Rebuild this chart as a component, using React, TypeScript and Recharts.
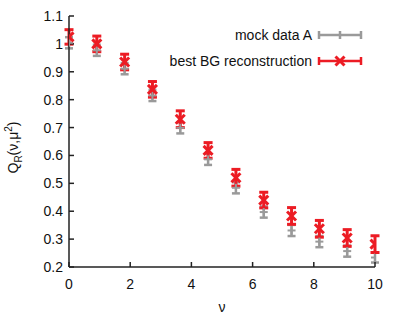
import React from 'react';
import {
  ScatterChart,
  Scatter,
  XAxis,
  YAxis,
  ErrorBar,
  Legend,
} from 'recharts';

const FONT = '"Liberation Sans", Arial, sans-serif';
const RED = '#ec1c24';
const GRAY = '#9a9a9a';
const AXIS = '#222222';

// nu values (12 points, evenly spaced 0..10)
const nuValues = [0, 0.909, 1.818, 2.727, 3.636, 4.545, 5.455, 6.364, 7.273, 8.182, 9.091, 10];
const mockValues = [1.004, 0.977, 0.911, 0.815, 0.699, 0.586, 0.484, 0.397, 0.331, 0.291, 0.257, 0.234];
const mockErrors = [0.02, 0.02, 0.02, 0.02, 0.02, 0.02, 0.02, 0.02, 0.02, 0.02, 0.02, 0.018];
const recoValues = [1.025, 1.0, 0.935, 0.837, 0.73, 0.618, 0.52, 0.44, 0.383, 0.337, 0.304, 0.282];
const recoErrors = [0.026, 0.028, 0.028, 0.028, 0.03, 0.028, 0.03, 0.028, 0.03, 0.03, 0.03, 0.03];
const xTicks = [0, 2, 4, 6, 8, 10];
const yTicks = [0.2, 0.3, 0.4, 0.5, 0.6, 0.7, 0.8, 0.9, 1, 1.1];

const mockData = nuValues.map((x, i) => ({ x, y: mockValues[i], err: mockErrors[i] }));
const recoData = nuValues.map((x, i) => ({ x, y: recoValues[i], err: recoErrors[i] }));

const CrossMark = (props: any) => {
  const { cx, cy } = props;
  const s = 4.5;
  return (
    <g stroke={RED} strokeWidth={3}>
      <line x1={cx - s} y1={cy - s} x2={cx + s} y2={cy + s} />
      <line x1={cx - s} y1={cy + s} x2={cx + s} y2={cy - s} />
    </g>
  );
};

const PlusMark = (props: any) => {
  const { cx, cy } = props;
  const s = 4;
  return (
    <g stroke={GRAY} strokeWidth={2}>
      <line x1={cx - s} y1={cy} x2={cx + s} y2={cy} />
      <line x1={cx} y1={cy - s} x2={cx} y2={cy + s} />
    </g>
  );
};

const LegendBox = () => (
  <svg width={220} height={52} style={{ display: 'block' }}>
    <g fontFamily={FONT} fontSize={14} fill="#111">
      <text x={152} y={18} textAnchor="end">mock data A</text>
      <text x={152} y={44} textAnchor="end">best BG reconstruction</text>
    </g>
    <g stroke={GRAY} strokeWidth={2.5}>
      <line x1={159} y1={13} x2={201} y2={13} />
      <line x1={159} y1={9} x2={159} y2={17} />
      <line x1={201} y1={9} x2={201} y2={17} />
      <line x1={180} y1={9} x2={180} y2={17} />
    </g>
    <g stroke={RED} strokeWidth={2.5}>
      <line x1={159} y1={39} x2={201} y2={39} />
      <line x1={159} y1={35} x2={159} y2={43} />
      <line x1={201} y1={35} x2={201} y2={43} />
      <line x1={175.5} y1={34.5} x2={184.5} y2={43.5} strokeWidth={3} />
      <line x1={175.5} y1={43.5} x2={184.5} y2={34.5} strokeWidth={3} />
    </g>
  </svg>
);

const YLabel = (props: any) => {
  const { viewBox } = props;
  const x = viewBox.x + 18;
  const y = viewBox.y + viewBox.height / 2 + 6;
  return (
    <text
      x={x}
      y={y}
      transform={`rotate(-90, ${x}, ${y})`}
      textAnchor="middle"
      fontFamily={FONT}
      fontSize={14}
      fill="#111"
    >
      Q<tspan dy={4} fontSize={10}>R</tspan>
      <tspan dy={-4}>(ν,μ</tspan>
      <tspan dy={-6} fontSize={10}>2</tspan>
      <tspan dy={6}>)</tspan>
    </text>
  );
};

const emptyTick = () => <g />;

export default function App() {
  const tickStyle = { fontSize: 14, fontFamily: FONT, fill: '#111' };
  return (
    <div style={{ position: 'absolute', left: 0, top: 0, background: '#fff' }}>
      <ScatterChart width={399} height={319} margin={{ top: 16, right: 24, bottom: 0, left: 0 }}>
        <XAxis
          xAxisId="b"
          dataKey="x"
          type="number"
          domain={[0, 10]}
          ticks={xTicks}
          allowDataOverflow
          height={52}
          tickSize={-5}
          tickMargin={17}
          tick={tickStyle}
          stroke={AXIS}
          strokeWidth={1.5}
          label={{ value: 'ν', position: 'insideBottom', offset: 7, style: { ...tickStyle } }}
        />
        <XAxis
          xAxisId="t"
          orientation="top"
          type="number"
          domain={[0, 10]}
          ticks={xTicks}
          allowDataOverflow
          height={0}
          tickSize={-5}
          tick={emptyTick}
          stroke={AXIS}
          strokeWidth={1.5}
        />
        <YAxis
          yAxisId="l"
          dataKey="y"
          type="number"
          domain={[0.2, 1.1]}
          ticks={yTicks}
          allowDataOverflow
          width={69}
          tickSize={-5}
          tickMargin={11}
          tick={tickStyle}
          stroke={AXIS}
          strokeWidth={1.5}
          label={{ content: YLabel }}
        />
        <YAxis
          yAxisId="r"
          orientation="right"
          type="number"
          domain={[0.2, 1.1]}
          ticks={yTicks}
          allowDataOverflow
          width={0}
          tickSize={-5}
          tick={emptyTick}
          stroke={AXIS}
          strokeWidth={1.5}
        />
        <Legend
          verticalAlign="middle"
          align="center"
          layout="vertical"
          wrapperStyle={{ top: 22, left: 160, width: 220, height: 52 }}
          content={LegendBox}
        />
        <Scatter
          name="mock data A"
          data={mockData}
          xAxisId="b"
          yAxisId="l"
          shape={PlusMark}
          isAnimationActive={false}
        >
          <ErrorBar dataKey="err" direction="y" width={4} stroke={GRAY} strokeWidth={2.5} isAnimationActive={false} />
        </Scatter>
        <Scatter
          name="best BG reconstruction"
          data={recoData}
          xAxisId="b"
          yAxisId="l"
          shape={CrossMark}
          isAnimationActive={false}
        >
          <ErrorBar dataKey="err" direction="y" width={4.5} stroke={RED} strokeWidth={3} isAnimationActive={false} />
        </Scatter>
      </ScatterChart>
    </div>
  );
}
